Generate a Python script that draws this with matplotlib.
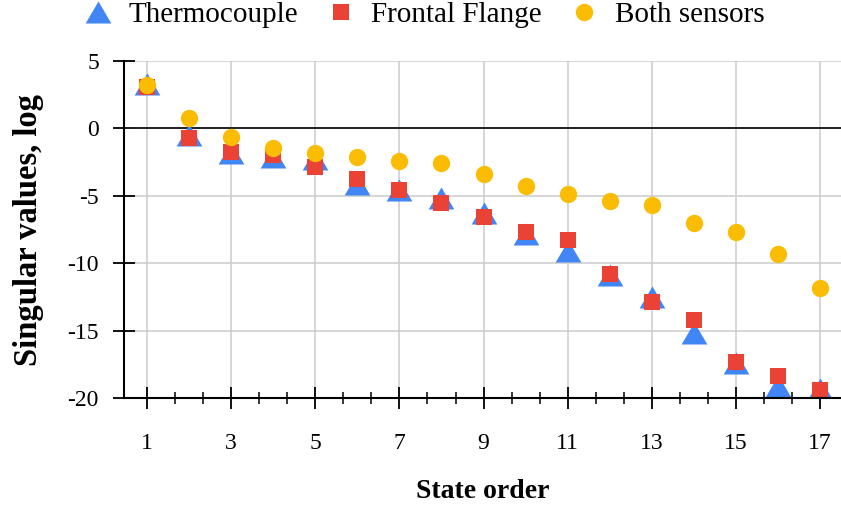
import numpy as np
import matplotlib
matplotlib.use("Agg")
import matplotlib.pyplot as plt

plt.rcParams['font.family'] = ['Liberation Serif', 'DejaVu Serif']
plt.rcParams['axes.unicode_minus'] = False

# state order (x) and log singular values per sensor set
states = np.arange(1, 18)
thermocouple = [3.3, -0.5, -1.8, -2.1, -2.25, -4.1, -4.55, -5.2, -6.3, -7.85,
                -9.1, -10.9, -12.5, -15.2, -17.4, -19.1, -19.3]
frontal_flange = [3.1, -0.7, -1.75, -1.95, -2.9, -3.75, -4.6, -5.5, -6.6, -7.65,
                  -8.25, -10.8, -12.85, -14.2, -17.3, -18.4, -19.4]
both_sensors = [3.25, 0.8, -0.65, -1.45, -1.8, -2.15, -2.4, -2.6, -3.4, -4.25,
                -4.85, -5.4, -5.65, -7.0, -7.65, -9.3, -11.85]

blue = '#4285F4'
red = '#EA4335'
yellow = '#FBBC04'

# slightly flattened triangle like the original
tri = [(-1, -0.857), (1, -0.857), (0, 0.857), (-1, -0.857)]

fig = plt.figure(figsize=(8.41, 5.11), dpi=100)
ax = fig.add_axes([124/841, 1 - 398/511, 1 - 124/841, (398 - 61)/511])

ax.plot(states, thermocouple, linestyle='none', marker=tri, ms=18.5,
        color=blue, mew=0, label='Thermocouple', zorder=3)
ax.plot(states, frontal_flange, linestyle='none', marker='s', ms=12,
        color=red, mew=0, label='Frontal Flange', zorder=4)
ax.plot(states, both_sensors, linestyle='none', marker='o', ms=12.5,
        color=yellow, mew=0, label='Both sensors', zorder=5)

ax.set_xlim(0.45, 17.5)
ax.set_ylim(-20, 5)
ax.set_xticks(np.arange(1, 18, 2))
ax.set_xticks(np.arange(1, 17.5, 2/3), minor=True)
ax.set_yticks(np.arange(-20, 6, 5))

ax.grid(True, which='major', color='#cccccc', lw=1.1)
ax.axhline(0, color='#222222', lw=1.4, zorder=2)

for s in ['top', 'right']:
    ax.spines[s].set_visible(False)
for s in ['left', 'bottom']:
    ax.spines[s].set_linewidth(1.5)
    ax.spines[s].set_zorder(6)

ax.tick_params(axis='both', which='major', direction='inout', length=16,
               width=1.3, labelsize=17, color='black')
ax.tick_params(axis='x', which='minor', direction='inout', length=8.5, width=1.1)
ax.tick_params(axis='x', which='major', pad=17)
ax.tick_params(axis='y', which='major', pad=10)

ax.set_xlabel('State order', fontsize=20, fontweight='bold', labelpad=18)
ax.set_ylabel('Singular values, log', fontsize=23.5, fontweight='bold', labelpad=17)

fig.legend(loc='center', bbox_to_anchor=(424/841, 1 - 15/511), ncol=3,
           frameon=False, fontsize=21, handlelength=1.0, handletextpad=0.55,
           columnspacing=0.95, markerscale=1.0)

fig.savefig('out.png', dpi=100)
